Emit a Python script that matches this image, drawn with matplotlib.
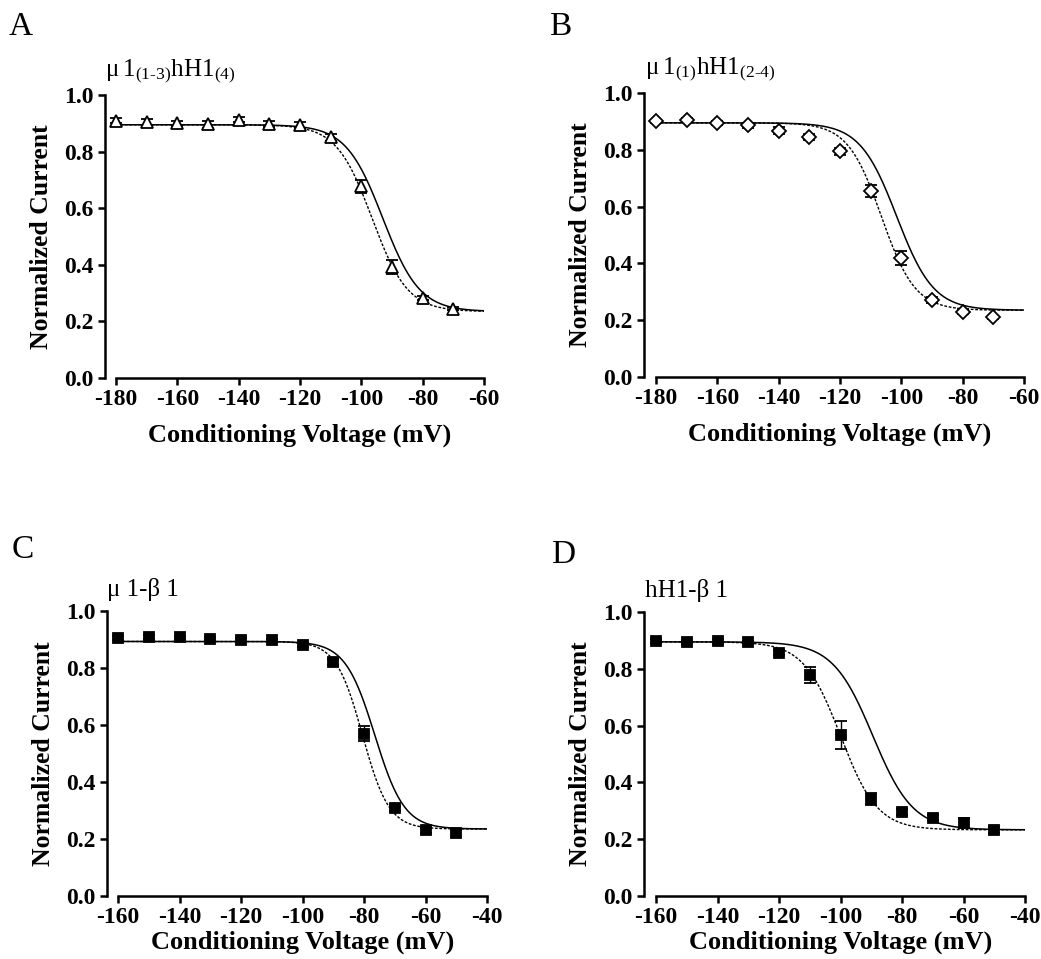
import numpy as np
import matplotlib.pyplot as plt

plt.rcParams['font.family'] = ['Liberation Serif', 'DejaVu Serif']
plt.rcParams['mathtext.fontset'] = 'custom'
plt.rcParams['mathtext.rm'] = 'Liberation Serif'
plt.rcParams['axes.unicode_minus'] = False

# data
v_ab = [-180, -170, -160, -150, -140, -130, -120, -110, -100, -90, -80, -70]
v_cd = [-160, -150, -140, -130, -120, -110, -100, -90, -80, -70, -60, -50]

a_mean = [0.910, 0.905, 0.900, 0.897, 0.913, 0.897, 0.895, 0.850, 0.677, 0.393, 0.283, 0.245]
a_err = [0.010, 0.010, 0.010, 0.012, 0.010, 0.010, 0.010, 0.012, 0.022, 0.025, 0.008, 0.006]

b_mean = [0.900, 0.905, 0.895, 0.886, 0.867, 0.846, 0.795, 0.655, 0.418, 0.270, 0.230, 0.210]
b_err = [0.006, 0.008, 0.008, 0.008, 0.012, 0.010, 0.012, 0.020, 0.025, 0.010, 0.008, 0.006]

c_mean = [0.905, 0.908, 0.907, 0.903, 0.898, 0.897, 0.880, 0.822, 0.570, 0.307, 0.230, 0.220]
c_err = [0.006, 0.006, 0.006, 0.006, 0.006, 0.006, 0.008, 0.010, 0.025, 0.010, 0.008, 0.010]

d_mean = [0.898, 0.895, 0.897, 0.893, 0.857, 0.777, 0.567, 0.342, 0.296, 0.276, 0.257, 0.232]
d_err = [0.006, 0.006, 0.008, 0.006, 0.010, 0.028, 0.050, 0.022, 0.010, 0.010, 0.018, 0.010]

# Boltzmann fit parameters (top, bottom, V1/2, k): solid and dashed
a_fit = [(0.895, 0.235, -93.0, 6.0), (0.895, 0.235, -96.5, 5.8)]
b_fit = [(0.895, 0.235, -101.5, 6.0), (0.895, 0.235, -106.5, 5.5)]
c_fit = [(0.893, 0.235, -76.5, 4.8), (0.893, 0.235, -80.5, 4.3)]
d_fit = [(0.895, 0.233, -89.5, 6.5), (0.895, 0.233, -100.0, 6.0)]

titles = [r'$\mathrm{\mu\,1_{(1‐3)}hH1_{(4)}}$', r'$\mathrm{\mu\,1_{(1)}hH1_{(2‐4)}}$',
          'μ 1-β 1', 'hH1-β 1']
letters = ['A', 'B', 'C', 'D']


def boltz(v, top, bot, vh, k):
    return bot + (top - bot) / (1 + np.exp((v - vh) / k))


fig = plt.figure(figsize=(10.41, 9.59), dpi=100)
pos = [[0.1114, 0.6058, 0.3535, 0.2951],
       [0.6302, 0.6069, 0.3535, 0.2961],
       [0.1134, 0.0657, 0.3545, 0.2972],
       [0.6302, 0.0657, 0.3545, 0.2961]]
xs = [v_ab, v_ab, v_cd, v_cd]
ys = [a_mean, b_mean, c_mean, d_mean]
es = [a_err, b_err, c_err, d_err]
fits = [a_fit, b_fit, c_fit, d_fit]
xlims = [(-180, -60), (-180, -60), (-160, -40), (-160, -40)]
marks = [('^', 'white'), ('D', 'white'), ('s', 'black'), ('s', 'black')]
msizes = [8.5, 7, 7, 7]
offs = [11, 12, 11, 12]
xpads = [10, 10, 2, 2]

for i in range(4):
    ax = fig.add_axes(pos[i])
    lo, hi = xlims[i]
    vv = np.linspace(lo, hi, 400)
    ax.plot(vv, boltz(vv, *fits[i][0]), 'k-', lw=1.1, zorder=2)
    ax.plot(vv, boltz(vv, *fits[i][1]), color='k', ls=(0, (2, 1.2)), lw=1.0, zorder=2)
    ax.errorbar(xs[i], ys[i], yerr=es[i], fmt=marks[i][0], mfc=marks[i][1], mec='k',
                mew=1.3, ms=msizes[i], ecolor='k', elinewidth=1.0, capsize=4.5, capthick=1.0,
                zorder=3, clip_on=False)
    ax.set_xlim(lo, hi)
    ax.set_ylim(0, 1.0)
    ax.set_xticks(np.arange(lo, hi + 1, 20))
    ax.set_yticks([0.0, 0.2, 0.4, 0.6, 0.8, 1.0])
    ax.set_yticklabels(['0.0', '0.2', '0.4', '0.6', '0.8', '1.0'])
    ax.spines['top'].set_visible(False)
    ax.spines['right'].set_visible(False)
    ax.spines['left'].set_position(('outward', offs[i] * 0.72))
    ax.spines['left'].set_linewidth(1.8)
    ax.spines['bottom'].set_linewidth(1.8)
    ax.tick_params(width=1.8, length=5, labelsize=17, pad=3)
    for t in ax.get_xticklabels() + ax.get_yticklabels():
        t.set_fontweight('bold')
    ax.set_xlabel('Conditioning Voltage (mV)', fontsize=19, fontweight='bold', labelpad=xpads[i])
    ax.set_ylabel('Normalized Current', fontsize=18.5, fontweight='bold', labelpad=8)
    ax.text(-0.03, 1.035, titles[i], transform=ax.transAxes, fontsize=18, ha='left', va='bottom')

fig.text(0.008, 0.963, 'A', fontsize=24, ha='left', va='baseline')
fig.text(0.527, 0.963, 'B', fontsize=24, ha='left', va='baseline')
fig.text(0.011, 0.418, 'C', fontsize=24, ha='left', va='baseline')
fig.text(0.529, 0.413, 'D', fontsize=24, ha='left', va='baseline')

fig.savefig('out.png', dpi=100)
